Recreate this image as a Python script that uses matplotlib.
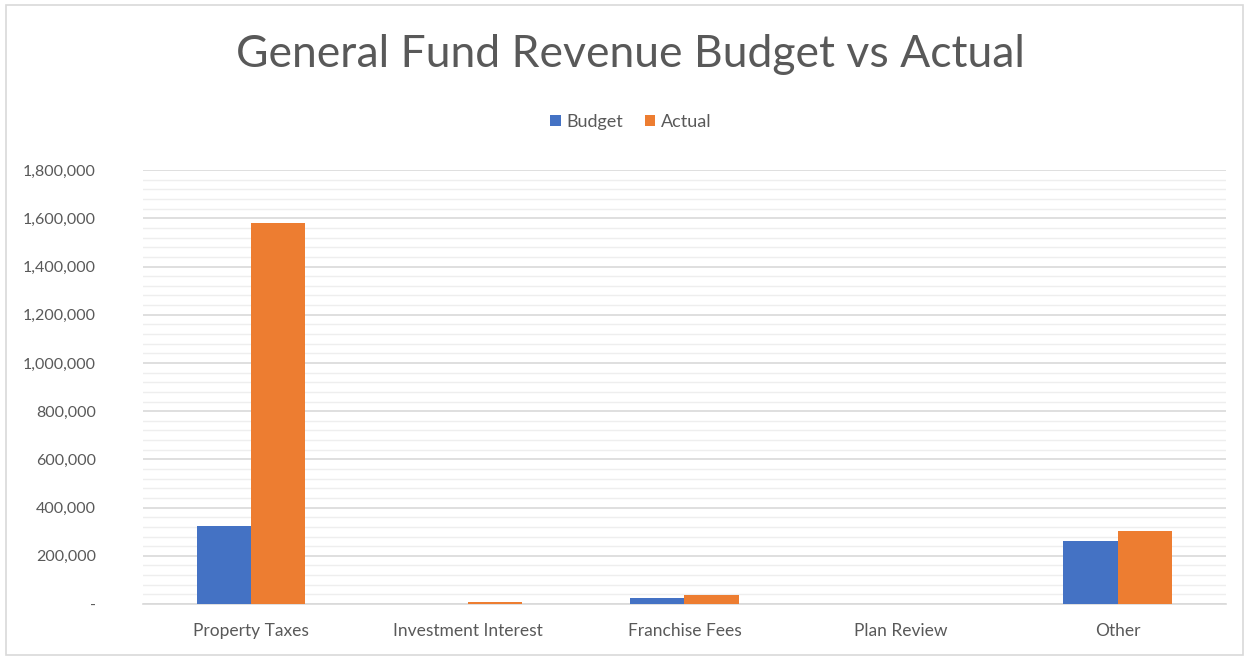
import numpy as np
import matplotlib.pyplot as plt
from matplotlib.ticker import FuncFormatter, MultipleLocator
from matplotlib.patches import Rectangle

categories = ["Property Taxes", "Investment Interest", "Franchise Fees", "Plan Review", "Other"]
budget = [324000, 0, 26000, 0, 263000]
actual = [1582000, 9000, 39000, 0, 303000]

BLUE = "#4472C4"
ORANGE = "#ED7D31"
TEXT = "#595959"

plt.rcParams["font.family"] = ["Lato", "DejaVu Sans"]

fig = plt.figure(figsize=(12.49, 6.6), dpi=100)
ax = fig.add_axes([0.1145, 0.0848, 0.867, 0.6575])

x = np.arange(len(categories))
w = 0.25
ax.bar(x - w / 2, budget, w, color=BLUE, label="Budget", zorder=3)
ax.bar(x + w / 2, actual, w, color=ORANGE, label="Actual", zorder=3)

ax.set_xlim(-0.5, len(categories) - 0.5)
ax.set_ylim(0, 1800000)
ax.yaxis.set_major_locator(MultipleLocator(200000))
ax.yaxis.set_minor_locator(MultipleLocator(40000))
ax.yaxis.set_major_formatter(FuncFormatter(lambda v, p: "-" if v == 0 else f"{v:,.0f}"))
ax.grid(axis="y", which="major", color="#d9d9d9", linewidth=1.2, zorder=0)
ax.grid(axis="y", which="minor", color="#eeeeee", linewidth=1.0, zorder=0)

for s in ["top", "right", "left"]:
    ax.spines[s].set_visible(False)
ax.spines["bottom"].set_color("#d9d9d9")
ax.spines["bottom"].set_linewidth(1.2)

ax.set_xticks(x)
ax.set_xticklabels(categories)
ax.tick_params(axis="both", which="both", length=0, colors=TEXT, labelsize=12.5)
ax.tick_params(axis="y", labelsize=11.5, pad=34)
ax.tick_params(axis="x", pad=14)

fig.text(0.505, 0.917, "General Fund Revenue Budget vs Actual", ha="center", va="center",
         fontsize=32, color=TEXT)
fig.legend(loc="center", bbox_to_anchor=(0.505, 0.815), ncol=2, frameon=False,
           fontsize=13, labelcolor=TEXT, handlelength=0.6, handleheight=0.6,
           handletextpad=0.3, columnspacing=1.2)

fig.patches.append(Rectangle((0.005, 0.008), 0.99, 0.984, transform=fig.transFigure,
                             fill=False, edgecolor="#d9d9d9", linewidth=1.2))

fig.savefig("out.png", dpi=100)
